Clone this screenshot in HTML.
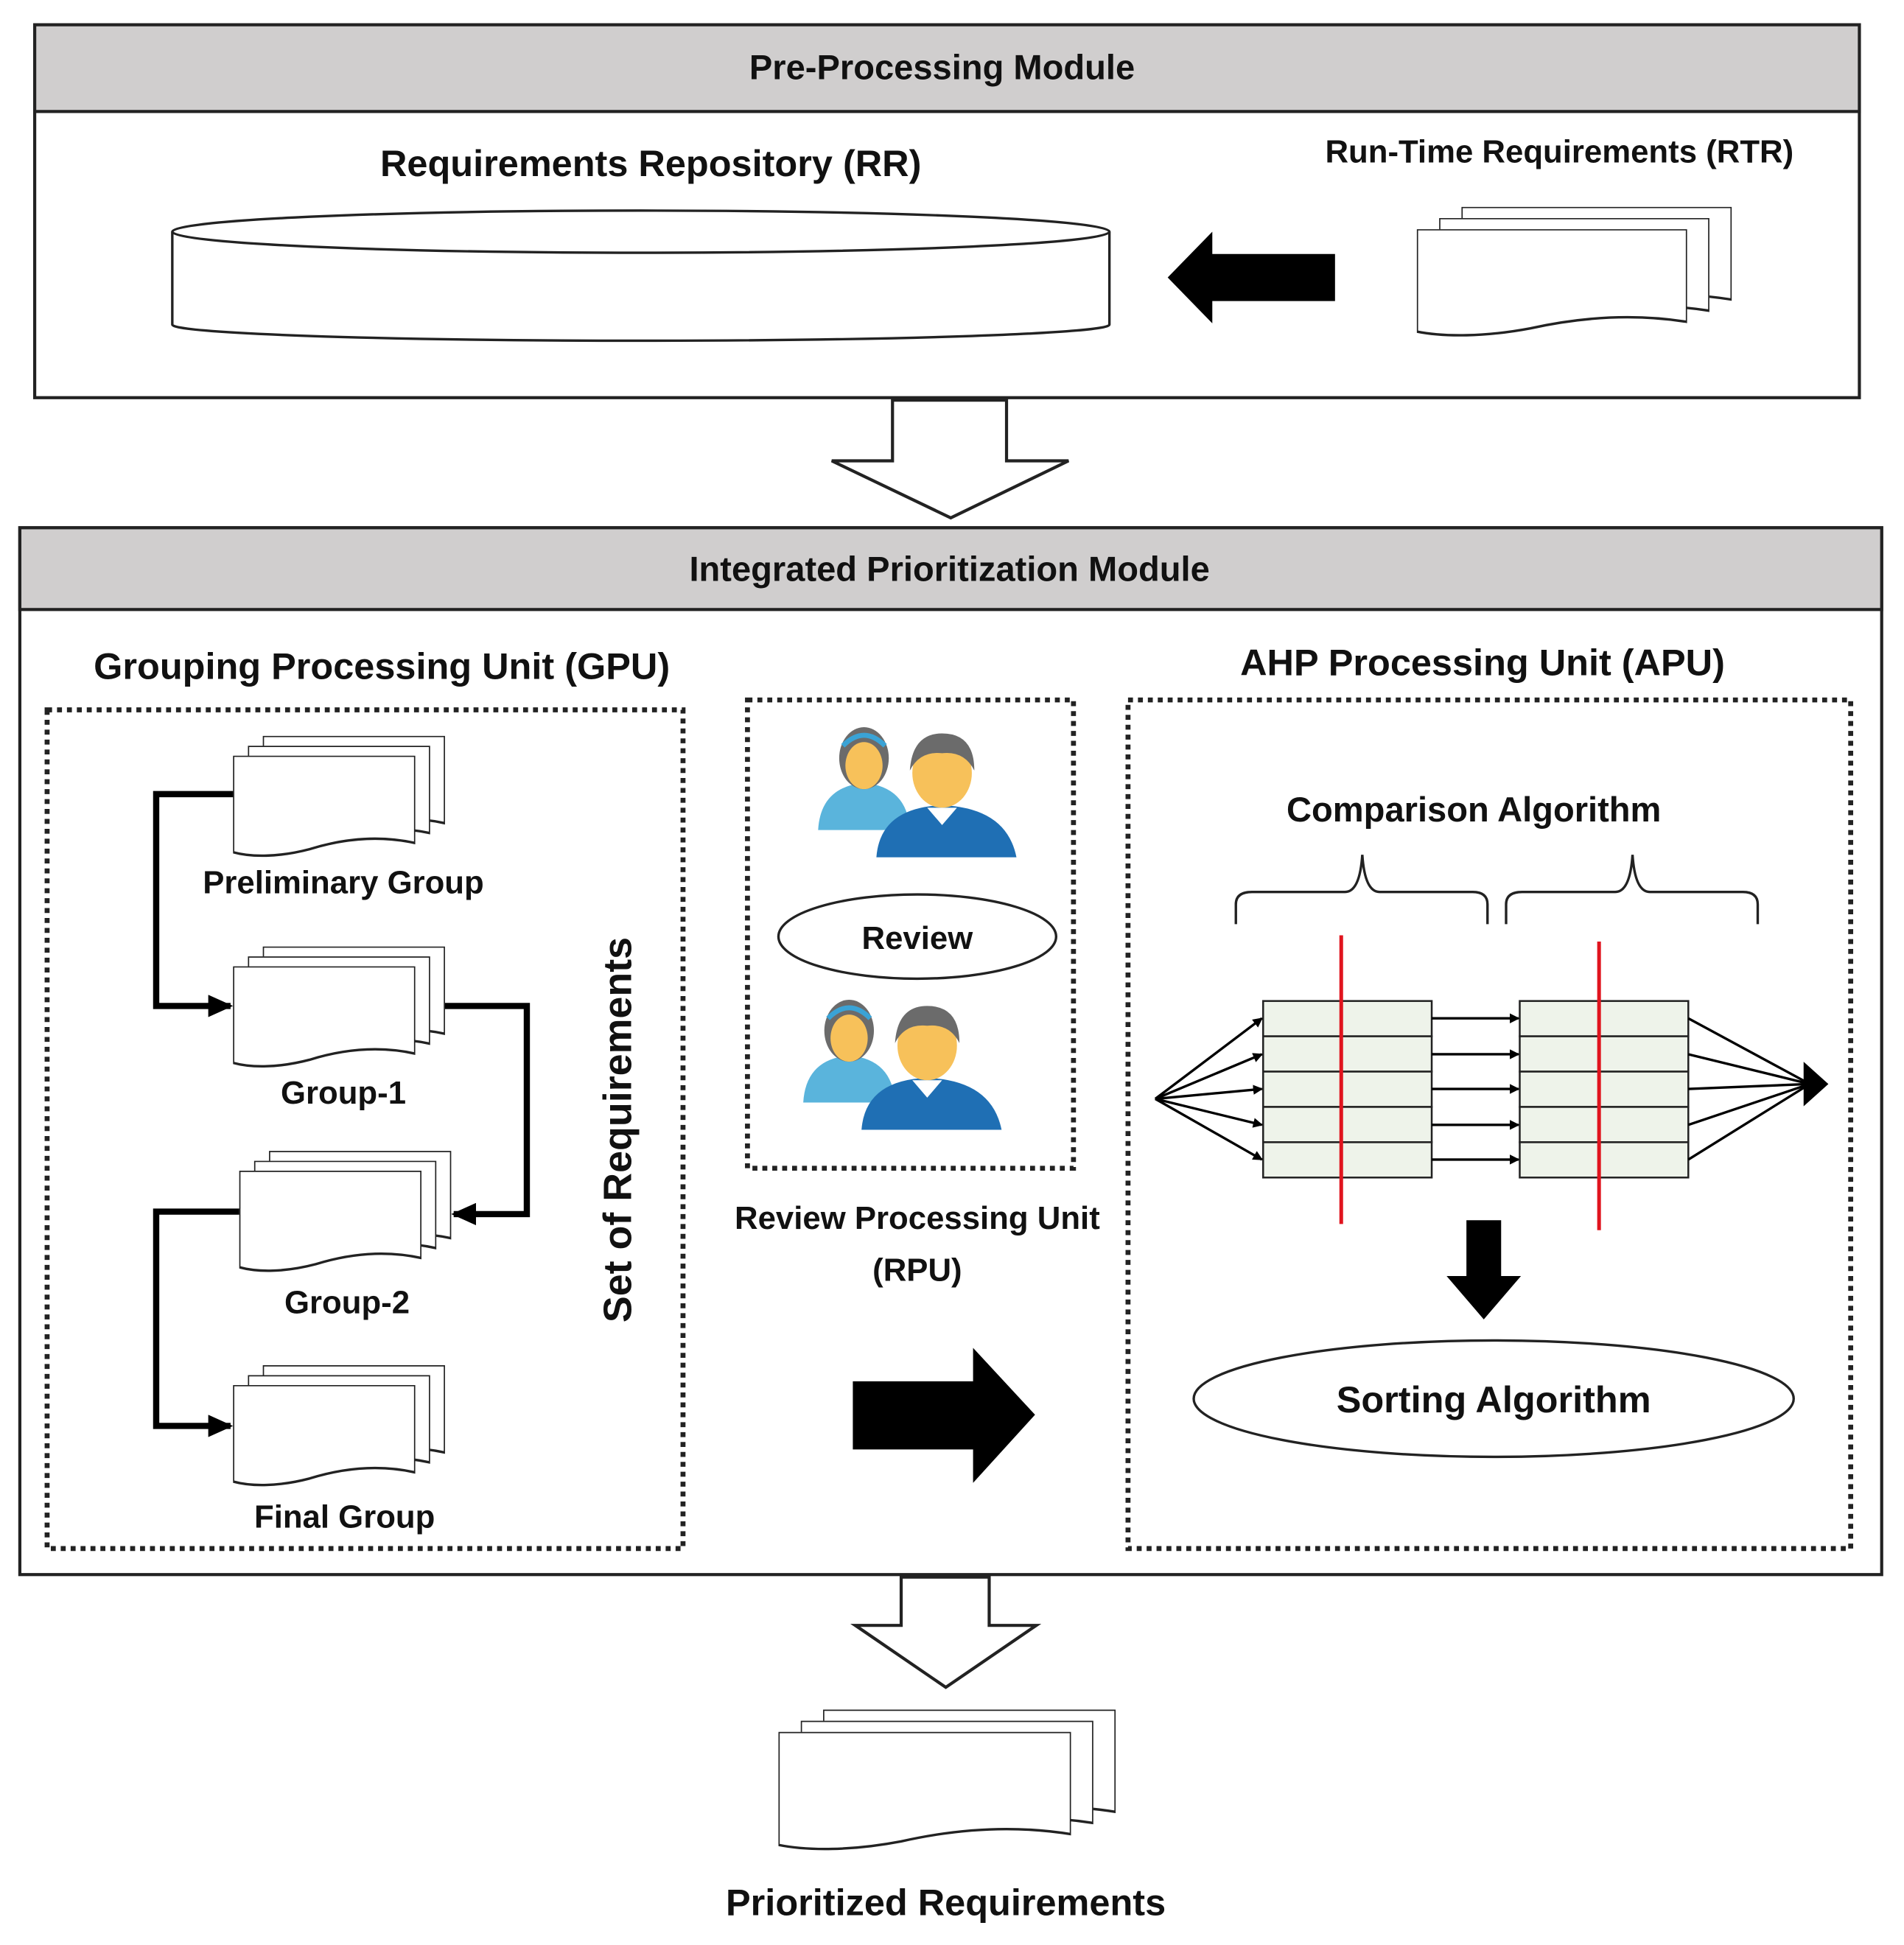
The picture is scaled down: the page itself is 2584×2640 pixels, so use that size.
<!DOCTYPE html>
<html><head><meta charset="utf-8"><style>
html,body{margin:0;padding:0;background:#fff}
svg{display:block}
text{font-family:"Liberation Sans",sans-serif;font-weight:bold;fill:#111}
</style></head><body>
<svg width="2584" height="2640" viewBox="0 0 1536 1570" preserveAspectRatio="none" xmlns="http://www.w3.org/2000/svg">
<defs>
<symbol id="doc" viewBox="0 0 100 100" preserveAspectRatio="none">
<path d="M0,0 H100 V86 C80,78 60,82 42,92 C25,100 10,100 0,95 Z" fill="#fff" stroke="#222" stroke-width="3.4" vector-effect="non-scaling-stroke"/>
</symbol>
<marker id="ah" markerWidth="8" markerHeight="8" refX="7" refY="4" orient="auto" markerUnits="userSpaceOnUse">
<path d="M0,0 L8,4 L0,8 Z" fill="#000"/></marker>
<marker id="ahm" markerWidth="20" markerHeight="18" refX="18" refY="9" orient="auto" markerUnits="userSpaceOnUse">
<path d="M0,0 L20,9 L0,18 Z" fill="#000"/></marker>
<g id="people">
<path d="M8,90 Q10,55 45,52 Q80,55 82,90 Z" fill="#5ab4dc"/>
<ellipse cx="45" cy="32" rx="20" ry="25" fill="#6b6b6b"/>
<ellipse cx="45" cy="38" rx="15" ry="19" fill="#f7c15a"/>
<path d="M28,22 Q45,5 62,22" stroke="#3aa3d6" stroke-width="4" fill="none"/>
<path d="M55,112 Q58,72 108,70 Q160,72 168,112 Z" fill="#1f6fb4"/>
<ellipse cx="108" cy="44" rx="24" ry="28" fill="#f7c15a"/>
<path d="M82,42 Q84,12 108,12 Q134,12 134,42 Q126,26 108,28 Q90,26 82,42 Z" fill="#6b6b6b"/>
<path d="M96,72 L108,86 L120,72 Z" fill="#fff"/>
</g>
</defs>

<rect x="28" y="20" width="1472" height="301" fill="#fff" stroke="#222" stroke-width="2.5"/>
<rect x="28" y="20" width="1472" height="70" fill="#d0cece" stroke="#222" stroke-width="2.5"/>
<text x="760" y="64" font-size="28" text-anchor="middle">Pre-Processing Module</text>
<text x="525" y="142" font-size="30" text-anchor="middle">Requirements Repository (RR)</text>
<path d="M139,187 V262 A378,13 0 0 0 895,262 V187" fill="#fff" stroke="#222" stroke-width="2"/>
<ellipse cx="517" cy="187" rx="378" ry="17" fill="#fff" stroke="#222" stroke-width="2"/>
<path d="M942,224 L978,187 V205 H1077 V243 H978 V261 Z" fill="#000"/>
<text x="1258" y="131" font-size="26" text-anchor="middle">Run-Time Requirements (RTR)</text>
<use href="#doc" x="1179" y="167" width="218" height="87"/>
<use href="#doc" x="1161" y="176" width="218" height="87"/>
<use href="#doc" x="1143" y="185" width="218" height="87"/>

<path d="M720,323 H812 V372 H862 L767,418 L671,372 H720 Z" fill="#fff" stroke="#222" stroke-width="2.5"/>

<rect x="16" y="426" width="1502" height="845" fill="#fff" stroke="#222" stroke-width="2.5"/>
<rect x="16" y="426" width="1502" height="66" fill="#d0cece" stroke="#222" stroke-width="2.5"/>
<text x="766" y="469" font-size="28" text-anchor="middle">Integrated Prioritization Module</text>

<text x="308" y="548" font-size="30" text-anchor="middle">Grouping Processing Unit (GPU)</text>
<rect x="38" y="573" width="513" height="677" fill="none" stroke="#222" stroke-width="4" stroke-dasharray="4,4"/>
<g>
<use href="#doc" x="212" y="594" width="147" height="82"/><use href="#doc" x="200" y="602" width="147" height="82"/><use href="#doc" x="188" y="610" width="147" height="82"/>
<use href="#doc" x="212" y="764" width="147" height="82"/><use href="#doc" x="200" y="772" width="147" height="82"/><use href="#doc" x="188" y="780" width="147" height="82"/>
<use href="#doc" x="217" y="929" width="147" height="82"/><use href="#doc" x="205" y="937" width="147" height="82"/><use href="#doc" x="193" y="945" width="147" height="82"/>
<use href="#doc" x="212" y="1102" width="147" height="82"/><use href="#doc" x="200" y="1110" width="147" height="82"/><use href="#doc" x="188" y="1118" width="147" height="82"/>
</g>
<text x="277" y="721" font-size="26" text-anchor="middle">Preliminary Group</text>
<text x="277" y="891" font-size="26" text-anchor="middle">Group-1</text>
<text x="280" y="1060" font-size="26" text-anchor="middle">Group-2</text>
<text x="278" y="1233" font-size="26" text-anchor="middle">Final Group</text>
<g fill="none" stroke="#000" stroke-width="5">
<path d="M188,641 H126 V812 H186" marker-end="url(#ahm)"/>
<path d="M359,812 H425 V980 H366" marker-end="url(#ahm)"/>
<path d="M193,978 H126 V1151 H186" marker-end="url(#ahm)"/>
</g>
<text x="0" y="0" font-size="32" text-anchor="middle" transform="translate(509,912) rotate(-90)">Set of Requirements</text>

<rect x="603" y="565" width="263" height="378" fill="none" stroke="#222" stroke-width="4" stroke-dasharray="4,4"/>
<use href="#people" x="652" y="580"/>
<use href="#people" x="640" y="800"/>
<ellipse cx="740" cy="756" rx="112" ry="34" fill="#fff" stroke="#222" stroke-width="2"/>
<text x="740" y="766" font-size="26" text-anchor="middle">Review</text>
<text x="740" y="992" font-size="26" text-anchor="middle">Review Processing Unit</text>
<text x="740" y="1034" font-size="26" text-anchor="middle">(RPU)</text>
<path d="M688,1115 H785 V1088 L835,1142 L785,1197 V1170 H688 Z" fill="#000"/>

<text x="1196" y="545" font-size="30" text-anchor="middle">AHP Processing Unit (APU)</text>
<rect x="910" y="565" width="583" height="685" fill="none" stroke="#222" stroke-width="4" stroke-dasharray="4,4"/>
<text x="1189" y="663" font-size="28" text-anchor="middle">Comparison Algorithm</text>
<g fill="none" stroke="#222" stroke-width="2">
<path d="M997,746 V730 Q997,720 1010,720 H1085 Q1097,720 1099,690 Q1101,720 1113,720 H1188 Q1200,720 1200,730 V746"/>
<path d="M1215,746 V730 Q1215,720 1228,720 H1303 Q1315,720 1317,690 Q1319,720 1331,720 H1406 Q1418,720 1418,730 V746"/>
</g>
<g fill="#eef3ea" stroke="#222" stroke-width="1.5">
<rect x="1019" y="808" width="136" height="28.5"/><rect x="1019" y="836.5" width="136" height="28.5"/><rect x="1019" y="865" width="136" height="28.5"/><rect x="1019" y="893.5" width="136" height="28.5"/><rect x="1019" y="922" width="136" height="28.5"/>
<rect x="1226" y="808" width="136" height="28.5"/><rect x="1226" y="836.5" width="136" height="28.5"/><rect x="1226" y="865" width="136" height="28.5"/><rect x="1226" y="893.5" width="136" height="28.5"/><rect x="1226" y="922" width="136" height="28.5"/>
</g>
<line x1="1082" y1="755" x2="1082" y2="988" stroke="#e0141e" stroke-width="3"/>
<line x1="1290" y1="760" x2="1290" y2="993" stroke="#e0141e" stroke-width="3"/>
<g stroke="#000" stroke-width="2" fill="none">
<line x1="932" y1="887" x2="1018" y2="822" marker-end="url(#ah)"/>
<line x1="932" y1="887" x2="1018" y2="851" marker-end="url(#ah)"/>
<line x1="932" y1="887" x2="1018" y2="879" marker-end="url(#ah)"/>
<line x1="932" y1="887" x2="1018" y2="908" marker-end="url(#ah)"/>
<line x1="932" y1="887" x2="1018" y2="936" marker-end="url(#ah)"/>
<line x1="1155" y1="822" x2="1225" y2="822" marker-end="url(#ah)"/>
<line x1="1155" y1="851" x2="1225" y2="851" marker-end="url(#ah)"/>
<line x1="1155" y1="879" x2="1225" y2="879" marker-end="url(#ah)"/>
<line x1="1155" y1="908" x2="1225" y2="908" marker-end="url(#ah)"/>
<line x1="1155" y1="936" x2="1225" y2="936" marker-end="url(#ah)"/>
<line x1="1362" y1="822" x2="1460" y2="875"/>
<line x1="1362" y1="851" x2="1460" y2="875"/>
<line x1="1362" y1="879" x2="1460" y2="875"/>
<line x1="1362" y1="908" x2="1460" y2="875"/>
<line x1="1362" y1="936" x2="1460" y2="875"/>
</g>
<path d="M1475,875 L1455,857 L1455,893 Z" fill="#000"/>
<path d="M1183,985 H1211 V1030 H1227 L1197,1065 L1167,1030 H1183 Z" fill="#000"/>
<ellipse cx="1205" cy="1129" rx="242" ry="47" fill="#fff" stroke="#222" stroke-width="2"/>
<text x="1205" y="1140" font-size="30" text-anchor="middle">Sorting Algorithm</text>

<path d="M727,1273 H798 V1312 H836 L763,1362 L690,1312 H727 Z" fill="#fff" stroke="#222" stroke-width="2.5"/>
<use href="#doc" x="664" y="1380" width="236" height="96"/>
<use href="#doc" x="646" y="1389" width="236" height="96"/>
<use href="#doc" x="628" y="1398" width="236" height="96"/>
<text x="763" y="1546" font-size="30" text-anchor="middle">Prioritized Requirements</text>
</svg>
</body></html>
